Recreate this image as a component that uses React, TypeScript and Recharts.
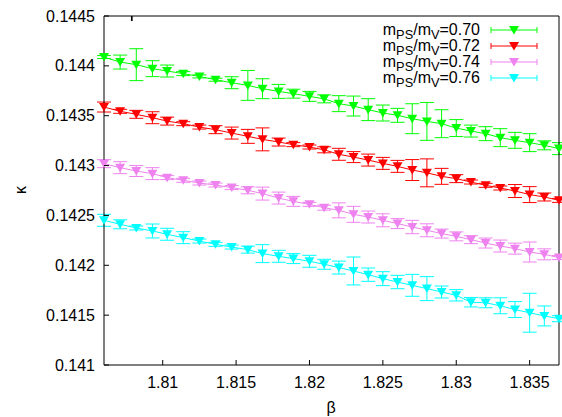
import React from 'react';
import { LineChart, Line, XAxis, YAxis, ErrorBar } from 'recharts';

// beta values (left part of the scan is slightly wider spaced)
const betas = [
  1.806, 1.8071, 1.8082, 1.8093, 1.8103, 1.8114, 1.8125, 1.8136, 1.8147, 1.8158, 1.8168,
  1.8179, 1.8189, 1.82, 1.821, 1.822, 1.823, 1.824, 1.825, 1.826, 1.827, 1.828, 1.829,
  1.83, 1.831, 1.832, 1.833, 1.834, 1.835, 1.836, 1.837,
];

// kappa_c at m_PS/m_V = 0.70
const kappa070 = [
  0.144088, 0.144038, 0.144012, 0.143972, 0.143948, 0.143922, 0.143894, 0.143861, 0.143831,
  0.143804, 0.143771, 0.143744, 0.143721, 0.143694, 0.143669, 0.143621, 0.143597, 0.143561,
  0.143527, 0.143504, 0.14347, 0.143443, 0.14342, 0.143376, 0.143346, 0.14332, 0.14328,
  0.143253, 0.14323, 0.143203, 0.14317,
];
const err070 = [
  0.000015, 0.00007, 0.00016, 0.00008, 0.00006, 0.00002, 0.000015, 0.000015, 0.00006, 0.00015,
  0.0001, 0.00007, 0.000045, 0.00005, 0.00004, 0.00008, 0.0001, 0.00011, 0.00008, 0.00007,
  0.00015, 0.00019, 0.00014, 0.000085, 0.00006, 0.00007, 0.00009, 0.00008, 0.00009, 0.000045,
  0.00006,
];

// 0.72
const kappa072 = [
  0.143587, 0.143544, 0.143514, 0.14348, 0.143446, 0.14342, 0.143386, 0.14336, 0.143326,
  0.143293, 0.143263, 0.143236, 0.14321, 0.143186, 0.143158, 0.143113, 0.143085, 0.143055,
  0.143022, 0.142992, 0.142955, 0.142927, 0.142892, 0.142869, 0.142835, 0.142802, 0.142775,
  0.142745, 0.142709, 0.142685, 0.142651,
];
const err072 = [
  0.00005, 0.00002, 0.00004, 0.00006, 0.00004, 0.00002, 0.00002, 0.00004, 0.00006, 0.00007,
  0.000115, 0.00004, 0.00002, 0.00002, 0.00003, 0.00006, 0.000055, 0.00006, 0.00006, 0.00006,
  0.000105, 0.00014, 0.00008, 0.00004, 0.00002, 0.00002, 0.00002, 0.000065, 0.00008, 0.00004,
  0.00002,
];

// 0.74
const kappa074 = [
  0.143019, 0.142979, 0.142945, 0.142919, 0.142879, 0.142852, 0.142825, 0.142805, 0.142779,
  0.142752, 0.142719, 0.142674, 0.142641, 0.142611, 0.142578, 0.142551, 0.142511, 0.142484,
  0.142451, 0.142418, 0.142384, 0.142351, 0.142318, 0.14229, 0.142257, 0.142223, 0.142193,
  0.142167, 0.142133, 0.14211, 0.142077,
];
const err074 = [
  0.00004, 0.00006, 0.000055, 0.00006, 0.00002, 0.00002, 0.00002, 0.00002, 0.00002, 0.000035,
  0.000065, 0.00006, 0.00005, 0.00002, 0.000025, 0.000075, 0.00008, 0.00006, 0.000065, 0.00005,
  0.000067, 0.000065, 0.000045, 0.000045, 0.00004, 0.00005, 0.00006, 0.000055, 0.0001, 0.000055,
  0.00002,
];

// 0.76
const kappa076 = [
  0.142451, 0.142411, 0.142374, 0.142344, 0.142311, 0.142277, 0.142243, 0.14221, 0.142183,
  0.142157, 0.142117, 0.14209, 0.142067, 0.14204, 0.14201, 0.141977, 0.141943, 0.141906,
  0.141866, 0.141832, 0.141799, 0.141766, 0.141732, 0.141699, 0.141629, 0.141624, 0.141594,
  0.141556, 0.141524, 0.141492, 0.141464,
];
const err076 = [
  0.00006, 0.000045, 0.00002, 0.00007, 0.00006, 0.00006, 0.00002, 0.00002, 0.00002, 0.000035,
  0.00009, 0.00006, 0.00005, 0.00006, 0.00005, 0.000065, 0.00014, 0.000067, 0.00007, 0.000067,
  0.00011, 0.00012, 0.00006, 0.000057, 0.000047, 0.00005, 0.00008, 0.00008, 0.000195, 0.0001,
  0.00003,
];

const ratios = ['0.70', '0.72', '0.74', '0.76'];
const colors = ['#00ff00', '#ff0000', '#ee82ee', '#00ffff'];

const xTicks = [1.81, 1.815, 1.82, 1.825, 1.83, 1.835];
const yTicks = [0.141, 0.1415, 0.142, 0.1425, 0.143, 0.1435, 0.144, 0.1445];
const xDomain = [1.806, 1.837];
const yDomain = [0.141, 0.1445];

const rows = betas.map((b, i) => ({
  beta: b,
  k0: kappa070[i], e0: err070[i],
  k1: kappa072[i], e1: err072[i],
  k2: kappa074[i], e2: err074[i],
  k3: kappa076[i], e3: err076[i],
}));

const FONT = '"Liberation Sans", Arial, Helvetica, sans-serif';
const TICK = 5;

function BottomTick(props: any) {
  const { x, y, payload } = props;
  return (
    <g>
      <line x1={x} x2={x} y1={y} y2={y - TICK} stroke="#000" />
      <text x={x} y={y + 22.5} textAnchor="middle" fontSize={16} fontFamily={FONT} fill="#000">
        {payload.value}
      </text>
    </g>
  );
}

function LeftTick(props: any) {
  const { x, y, payload } = props;
  return (
    <g>
      <line x1={x} x2={x + TICK} y1={y} y2={y} stroke="#000" />
      <text x={x - 9} y={y + 5.5} textAnchor="end" fontSize={16} fontFamily={FONT} fill="#000">
        {payload.value}
      </text>
    </g>
  );
}

function TopTick(props: any) {
  const { x, y } = props;
  return <line x1={x} x2={x} y1={y} y2={y + TICK} stroke="#000" />;
}

function RightTick(props: any) {
  const { x, y } = props;
  return <line x1={x} x2={x - TICK} y1={y} y2={y} stroke="#000" />;
}

function Tri({ cx, cy, color }: { cx: number; cy: number; color: string }) {
  return (
    <path
      d={`M${cx - 5},${cy - 4}L${cx + 5},${cy - 4}L${cx},${cy + 4.5}Z`}
      fill={color}
      stroke="none"
    />
  );
}

function LegendRow({ i }: { i: number }) {
  const rowY = 30 + i * 16;
  const c = colors[i];
  return (
    <>
      <div
        style={{
          position: 'absolute',
          right: 562 - 480,
          top: rowY - 9.5,
          fontSize: 16,
          lineHeight: '18px',
          fontFamily: FONT,
          whiteSpace: 'nowrap',
        }}
      >
        m<span style={{ fontSize: '0.8em', position: 'relative', top: 4 }}>PS</span>/m
        <span style={{ fontSize: '0.8em', position: 'relative', top: 4 }}>V</span>={ratios[i]}
      </div>
      <svg
        width={52}
        height={14}
        style={{ position: 'absolute', left: 488, top: rowY - 7 }}
      >
        <line x1={3} x2={49} y1={7} y2={7} stroke={c} />
        <line x1={3} x2={3} y1={4} y2={10} stroke={c} />
        <line x1={49} x2={49} y1={4} y2={10} stroke={c} />
        <Tri cx={26} cy={7} color={c} />
      </svg>
    </>
  );
}

export default function App() {
  return (
    <div style={{ position: 'relative', width: 562, height: 417, background: '#fff' }}>
      <style>{'body{margin:0}'}</style>
      <LineChart
        width={562}
        height={417}
        data={rows}
        margin={{ top: 15, right: 2, bottom: 0, left: 0 }}
      >
        <XAxis
          dataKey="beta"
          type="number"
          domain={xDomain}
          ticks={xTicks}
          interval={0}
          height={52}
          tickSize={0}
          tickMargin={0}
          axisLine={{ stroke: '#000' }}
          tickLine={false}
          tick={(p: any) => <BottomTick {...p} />}
        />
        <XAxis
          xAxisId="top"
          orientation="top"
          type="number"
          domain={xDomain}
          ticks={xTicks}
          interval={0}
          height={1}
          tickSize={0}
          tickMargin={0}
          axisLine={{ stroke: '#000' }}
          tickLine={false}
          tick={(p: any) => <TopTick {...p} />}
        />
        <YAxis
          type="number"
          domain={yDomain}
          ticks={yTicks}
          interval={0}
          width={104}
          tickSize={0}
          tickMargin={0}
          axisLine={{ stroke: '#000' }}
          tickLine={false}
          tick={(p: any) => <LeftTick {...p} />}
        />
        <YAxis
          yAxisId="right"
          orientation="right"
          type="number"
          domain={yDomain}
          ticks={yTicks}
          interval={0}
          width={1}
          tickSize={0}
          tickMargin={0}
          axisLine={{ stroke: '#000' }}
          tickLine={false}
          tick={(p: any) => <RightTick {...p} />}
        />
        {ratios.map((r, i) => (
          <Line
            key={r}
            type="linear"
            dataKey={`k${i}`}
            name={`mPS/mV=${r}`}
            stroke={colors[i]}
            strokeWidth={1}
            isAnimationActive={false}
            dot={(p: any) => (
              <Tri key={`d${i}-${p.index}`} cx={p.cx} cy={p.cy} color={colors[i]} />
            )}
            activeDot={false}
          >
            <ErrorBar dataKey={`e${i}`} width={7} stroke={colors[i]} strokeWidth={1} direction="y" />
          </Line>
        ))}
      </LineChart>

      {ratios.map((r, i) => (
        <LegendRow key={r} i={i} />
      ))}

      <div
        style={{
          position: 'absolute',
          left: 21,
          top: 190,
          transform: 'translate(-50%, -50%) rotate(-90deg)',
          fontSize: 16,
          fontFamily: FONT,
        }}
      >
        κ
      </div>
      <div
        style={{
          position: 'absolute',
          left: 331,
          top: 408,
          transform: 'translate(-50%, -50%)',
          fontSize: 16,
          fontFamily: FONT,
        }}
      >
        β
      </div>
    </div>
  );
}
